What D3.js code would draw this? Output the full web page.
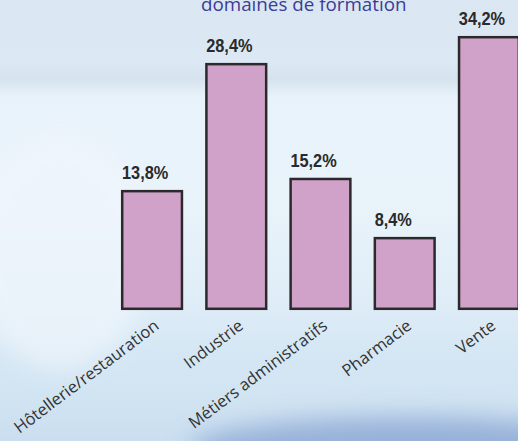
<!DOCTYPE html>
<html>
<head>
<meta charset="utf-8">
<script src="https://cdn.jsdelivr.net/npm/d3@7"></script>
<style>
  html, body { margin: 0; padding: 0; overflow: hidden; }
  svg { display: block; }
</style>
</head>
<body>
<svg id="chart" width="518" height="441"></svg>
<script>
// ---- data ----
const categories = ["Hôtellerie/restauration", "Industrie", "Métiers administratifs", "Pharmacie", "Vente"];
const values = [13.8, 28.4, 15.2, 8.4, 34.2];
const valueLabels = ["13,8%", "28,4%", "15,2%", "8,4%", "34,2%"];
const titleText = "domaines de formation";
const yDomainMax = 31.5; // visible top of the plot (tallest bar is cut off)

// ---- layout ----
const W = 518, H = 441;
const svg = d3.select("#chart");
const defs = svg.append("defs");

const bg = defs.append("linearGradient").attr("id", "bg").attr("x1", 0).attr("y1", 0).attr("x2", 0).attr("y2", 1);
[[0, "#dae6f1"], [0.14, "#dce8f3"], [0.18, "#d6e3ee"], [0.22, "#e8f2fa"], [0.45, "#e9f3fa"],
 [0.65, "#e1eef8"], [0.8, "#d5e7f4"], [0.9, "#d1e4f2"], [1, "#cadef0"]]
  .forEach(([o, c]) => bg.append("stop").attr("offset", o).attr("stop-color", c));

const blur = defs.append("filter").attr("id", "blur").attr("x", "-50%").attr("y", "-50%").attr("width", "200%").attr("height", "200%");
blur.append("feGaussianBlur").attr("stdDeviation", 12);

svg.append("rect").attr("width", W).attr("height", H).attr("fill", "url(#bg)");
svg.append("ellipse").attr("cx", 410).attr("cy", 450).attr("rx", 220).attr("ry", 32)
  .attr("fill", "#96b0d8").attr("filter", "url(#blur)").attr("opacity", 1);
svg.append("ellipse").attr("cx", 60).attr("cy", 250).attr("rx", 90).attr("ry", 120)
  .attr("fill", "#f0f6fc").attr("filter", "url(#blur)").attr("opacity", 0.7);

const baseline = 310;
const x = d3.scaleBand().domain(categories).range([121, 520]).paddingInner(0.262).paddingOuter(0);
const y = d3.scaleLinear().domain([0, yDomainMax]).range([baseline, 36]).clamp(true);

const data = categories.map((c, i) => ({ c, v: values[i], label: valueLabels[i] }));

// title (partially cut at the top, as in the source)
svg.append("text").attr("x", 201).attr("y", 10.5)
  .attr("font-family", "'Open Sans', 'Noto Sans', sans-serif").attr("font-size", 18.8)
  .attr("fill", "#3b3c98").text(titleText);

// bars
svg.selectAll("rect.bar").data(data).join("rect").attr("class", "bar")
  .attr("x", d => x(d.c) + 1.2)
  .attr("y", d => y(d.v) + 1.2)
  .attr("width", x.bandwidth() - 2.4)
  .attr("height", d => baseline - y(d.v) - 2.4)
  .attr("fill", "#d0a2c9")
  .attr("stroke", "#2c292c").attr("stroke-width", 2.5);

// value labels (condensed bold)
svg.selectAll("text.val").data(data).join("text").attr("class", "val")
  .attr("transform", d => `translate(${x(d.c) + 1},${y(d.v) - 11}) scale(0.86,1)`)
  .attr("font-family", "'Liberation Sans', Arial, sans-serif")
  .attr("font-weight", "bold").attr("font-size", 19)
  .attr("fill", "#2a2a2a")
  .text(d => d.label);

// category labels
svg.selectAll("text.cat").data(data).join("text").attr("class", "cat")
  .attr("transform", d => `translate(${x(d.c) + x.bandwidth() / 2 + 8},328) rotate(-37)`)
  .attr("text-anchor", "end")
  .attr("font-family", "'Open Sans', 'Noto Sans', sans-serif").attr("font-size", 16.5)
  .attr("fill", "#333333")
  .text(d => d.c);
</script>
</body>
</html>
